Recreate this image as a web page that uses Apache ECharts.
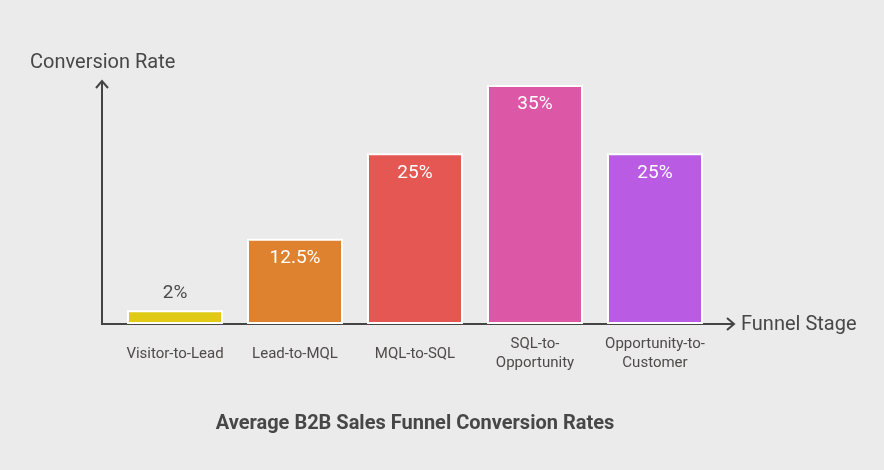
<!DOCTYPE html>
<html><head><meta charset="utf-8">
<script src="https://cdn.jsdelivr.net/npm/echarts@6/dist/echarts.min.js"></script>
<style>html,body{margin:0;padding:0;background:#ebebeb}#c{width:884px;height:470px}</style>
</head><body><div id="c"></div>
<script>
const categories = ['Visitor-to-Lead', 'Lead-to-MQL', 'MQL-to-SQL', 'SQL-to-\nOpportunity', 'Opportunity-to-\nCustomer'];
const values = [2, 12.5, 25, 35, 25];
const labels = ['2%', '12.5%', '25%', '35%', '25%'];
const colors = ['#e0ca16', '#de8230', '#e45752', '#dd57a7', '#b95ce3'];
const titleText = 'Average B2B Sales Funnel Conversion Rates';
const yName = 'Conversion Rate';
const xName = 'Funnel Stage';

const chart = echarts.init(document.getElementById('c'));
const font = 'Roboto, "Noto Sans", sans-serif';
chart.setOption({
  backgroundColor: '#ebebeb',
  animation: false,
  title: { text: titleText, left: 410, top: 409, textAlign: 'center',
    textStyle: { fontFamily: font, fontSize: 20, fontWeight: 'bold', color: '#474747' } },
  grid: { left: 115, right: 169, top: 85, bottom: 146 },
  xAxis: { type: 'category', data: categories,
    axisLine: { show: false }, axisTick: { show: false },
    axisLabel: { interval: 0, margin: 30, verticalAlign: 'middle', fontFamily: font, fontSize: 15, color: '#4f4a4a', lineHeight: 19 } },
  yAxis: { type: 'value', min: 0, max: 35, show: false, splitLine: { show: false } },
  series: [{
    type: 'bar', barWidth: 96,
    data: values.map((v, i) => ({
      value: v,
      itemStyle: { color: colors[i], borderColor: '#ffffff', borderWidth: 2 },
      label: i === 0
        ? { show: true, position: 'top', distance: 8, formatter: labels[i], color: '#4a4a4a', fontSize: 19, fontFamily: font }
        : { show: true, position: 'insideTop', distance: 10, formatter: labels[i], color: '#ffffff', fontSize: 19, fontFamily: font }
    }))
  }],
  graphic: [
    { type: 'polyline', shape: { points: [[102, 325], [102, 81]] }, style: { stroke: '#444', lineWidth: 2, fill: null } },
    { type: 'polyline', shape: { points: [[96, 88], [102, 81], [108, 88]] }, style: { stroke: '#444', lineWidth: 2, fill: null } },
    { type: 'polyline', shape: { points: [[101, 324], [734, 324]] }, style: { stroke: '#444', lineWidth: 2, fill: null } },
    { type: 'polyline', shape: { points: [[727, 318], [734, 324], [727, 330]] }, style: { stroke: '#444', lineWidth: 2, fill: null } },
    { type: 'text', left: 30, top: 53, style: { text: yName, fontFamily: font, fontSize: 20, fill: '#474747' } },
    { type: 'text', left: 741, top: 315, style: { text: xName, fontFamily: font, fontSize: 20, fill: '#474747' } }
  ]
});
</script></body></html>
